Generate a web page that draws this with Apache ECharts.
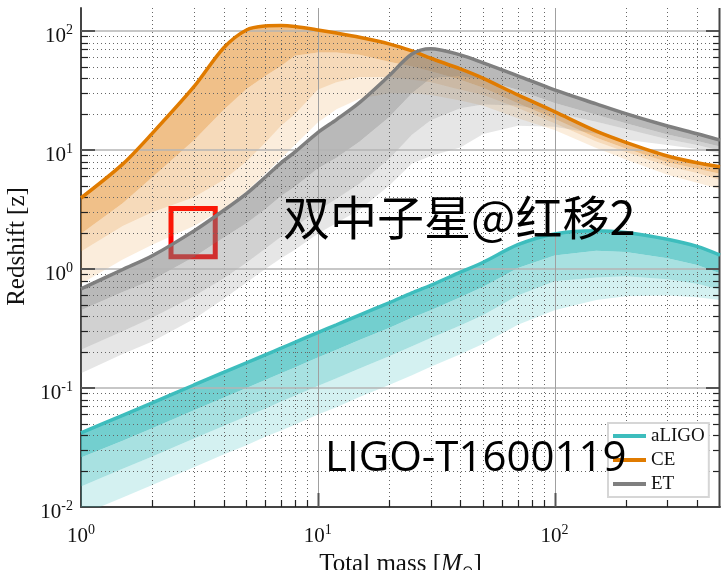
<!DOCTYPE html>
<html lang="en">
<head>
<meta charset="UTF-8">
<title>horizon redshift vs total mass</title>
<script type="text/javascript" src="https://cdn.jsdelivr.net/npm/echarts@6/dist/echarts.min.js"></script>
<style>
  html, body { margin: 0; padding: 0; background: #fff; }
  #main { width: 721px; height: 570px; }
</style>
</head>
<body>
<div id="main"></div>
<script type="text/javascript">
// total mass grid (M_sun)
var mass = [1, 1.5, 2, 3, 4, 5, 6, 7, 8, 10, 12, 15, 20, 25, 30, 40, 50, 70, 100, 150, 200, 300, 400, 500];

// aLIGO: horizon line and the three lower band edges
var aligoTop = [0.042, 0.059, 0.075, 0.106, 0.135, 0.163, 0.19, 0.216, 0.242, 0.292, 0.34, 0.41, 0.52, 0.63, 0.73, 0.94, 1.14, 1.6, 1.97, 2.10, 2.03, 1.78, 1.55, 1.31];
var aligoB1 = [0.026, 0.036, 0.046, 0.065, 0.083, 0.10, 0.117, 0.133, 0.149, 0.18, 0.21, 0.253, 0.32, 0.39, 0.45, 0.58, 0.71, 1.02, 1.30, 1.42, 1.39, 1.23, 1.08, 0.92];
var aligoB2 = [0.0149, 0.021, 0.0266, 0.0376, 0.048, 0.058, 0.067, 0.077, 0.086, 0.104, 0.121, 0.146, 0.185, 0.224, 0.263, 0.335, 0.41, 0.6, 0.79, 0.85, 0.87, 0.82, 0.75, 0.67];
var aligoB3 = [0.0086, 0.012, 0.0153, 0.0216, 0.0276, 0.033, 0.039, 0.044, 0.049, 0.060, 0.069, 0.084, 0.106, 0.128, 0.151, 0.192, 0.235, 0.34, 0.45, 0.55, 0.59, 0.60, 0.58, 0.55];

// CE
var ceTop = [3.95, 7.6, 13.8, 34, 72, 102, 110, 111, 109, 102, 96, 88.5, 78, 68, 59, 48, 40, 29, 21, 14.4, 11.6, 8.9, 7.8, 7.24];
var ceB1 = [1.98, 3.56, 5.9, 12.1, 21.7, 32.6, 41.8, 50.7, 62, 66, 66, 63, 55.2, 50.4, 45.8, 39, 33.3, 24.7, 18.3, 12.7, 10.3, 7.9, 6.95, 6.3];
var ceB2 = [1.4, 2.3, 3.0, 4.0, 5.6, 8, 11.5, 16, 20, 32, 37, 41, 41, 39, 37, 32, 29, 22.5, 16.8, 11.8, 9.6, 7.3, 6.4, 5.6];
var ceB3 = [0.75, 1.2, 1.6, 2.3, 3.2, 4.5, 6.3, 8.5, 11, 17, 22, 27, 30, 30, 29, 26, 23.5, 18.5, 14.7, 10.4, 8.3, 6.2, 5.3, 4.7];

// ET
var etTop = [0.68, 0.99, 1.29, 2.09, 3.1, 4.3, 5.9, 7.8, 9.6, 14, 18, 25, 42, 64, 71, 63, 54, 42, 32, 24.4, 20.2, 15.9, 13.7, 12.1];
var etB1 = [0.45, 0.64, 0.81, 1.26, 1.83, 2.42, 3.17, 4.1, 4.9, 7.0, 8.6, 11.7, 18.8, 30, 40, 41.6, 39, 31.9, 24.8, 19.8, 16.8, 13.5, 11.9, 10.7];
var etB2 = [0.21, 0.30, 0.39, 0.59, 0.83, 1.13, 1.48, 1.87, 2.25, 3.1, 3.9, 5.2, 8.4, 13.4, 17.8, 22.4, 24.1, 23.6, 20.7, 17.3, 15.0, 12.3, 11.0, 9.9];
var etB3 = [0.133, 0.193, 0.246, 0.38, 0.56, 0.77, 1.0, 1.23, 1.45, 1.98, 2.43, 3.15, 5.0, 7.7, 8.9, 10.5, 13.6, 16.0, 15.7, 13.7, 12.2, 11.0, 10.2, 9.4];

// red box corners [mass, z]
var boxFrom = [2.40, 1.27];
var boxTo = [3.69, 3.22];

// axis ranges and grid ticks
var xRange = [1, 500];
var yRange = [0.01, 156];
var xDecades = [1, 10, 100];
var yDecades = [0.01, 0.1, 1, 10, 100];
var minorSteps = [2, 3, 4, 5, 6, 7, 8, 9];

var xMinor = [], yMinor = [];
xDecades.forEach(function (d) { minorSteps.forEach(function (s) { if (d * s < xRange[1]) xMinor.push(d * s); }); });
yDecades.forEach(function (d) { minorSteps.forEach(function (s) { if (d * s < yRange[1]) yMinor.push(d * s); }); });
var xMajor = xDecades.slice(1);
var yMajor = yDecades.slice(1);

var teal = '#3dbdbd', orange = '#e07b00', grey = '#7f7f7f';

var bands = [
    { up: aligoTop, lo: aligoB1, color: 'rgba(61,189,189,0.72)' },
    { up: aligoB1, lo: aligoB2, color: 'rgba(61,189,189,0.45)' },
    { up: aligoB2, lo: aligoB3, color: 'rgba(61,189,189,0.22)' },
    { up: ceTop, lo: ceB1, color: 'rgba(228,140,40,0.55)' },
    { up: ceB1, lo: ceB2, color: 'rgba(228,140,40,0.32)' },
    { up: ceB2, lo: ceB3, color: 'rgba(228,140,40,0.16)' },
    { up: etTop, lo: etB1, color: 'rgba(128,128,128,0.55)' },
    { up: etB1, lo: etB2, color: 'rgba(128,128,128,0.36)' },
    { up: etB2, lo: etB3, color: 'rgba(128,128,128,0.2)' }
];

function pairs(ys) {
    return mass.map(function (m, i) { return [m, ys[i]]; });
}

function renderBand(params, api) {
    var b = bands[params.dataIndex];
    var pts = [];
    for (var i = 0; i < mass.length; i++) pts.push(api.coord([mass[i], b.up[i]]));
    for (var j = mass.length - 1; j >= 0; j--) pts.push(api.coord([mass[j], b.lo[j]]));
    return { type: 'polygon', shape: { points: pts }, style: { fill: b.color } };
}

function renderFrame(params, api) {
    var cs = params.coordSys;
    var L = cs.x, R = cs.x + cs.width, T = cs.y, B = cs.y + cs.height;
    var out = [];
    function seg(x1, y1, x2, y2, st) {
        out.push({ type: 'line', shape: { x1: x1, y1: y1, x2: x2, y2: y2 }, style: st });
    }
    var dotted = { stroke: '#666', lineWidth: 1, lineDash: [1, 3] };
    var major = { stroke: '#b5b5b5', lineWidth: 1.5 };
    var tMinor = { stroke: '#222', lineWidth: 1.2 };
    var tMajor = { stroke: '#555', lineWidth: 2 };
    yMinor.forEach(function (v) {
        var y = Math.round(api.coord([xRange[0], v])[1]) + 0.5;
        seg(L, y, R, y, dotted);
        seg(L, y, L + 7, y, tMinor);
        seg(R, y, R - 7, y, tMinor);
    });
    xMinor.forEach(function (v) {
        var x = Math.round(api.coord([v, yRange[0]])[0]) + 0.5;
        seg(x, T, x, B, dotted);
        seg(x, B, x, B - 7, tMinor);
    });
    yMajor.forEach(function (v) {
        var y = Math.round(api.coord([xRange[0], v])[1]);
        seg(L, y, R, y, major);
        seg(L, y, L + 14, y, tMajor);
        seg(R, y, R - 14, y, tMajor);
    });
    xMajor.forEach(function (v) {
        var x = Math.round(api.coord([v, yRange[0]])[0]) + 0.5;
        seg(x, T, x, B, { stroke: '#a0a0a0', lineWidth: 1 });
        seg(x, B, x, B - 14, tMajor);
    });
    seg(R - 0.5, T, R - 0.5, B, { stroke: '#444', lineWidth: 2 });
    return { type: 'group', children: out };
}

function powLabel(v) {
    var n = Math.round(Math.log(v) / Math.LN10);
    return '{b|10}{s|' + n + '}';
}

var labelRich = {
    b: { fontFamily: 'Liberation Serif', fontSize: 21, color: '#111', lineHeight: 24, verticalAlign: 'bottom' },
    s: { fontFamily: 'Liberation Serif', fontSize: 14, color: '#111', lineHeight: 14, verticalAlign: 'top' }
};

var myChart = echarts.init(document.getElementById('main'));

myChart.setOption({
    animation: false,
    grid: { left: 81, right: 1, top: 8, bottom: 63, outerBoundsMode: 'none', containLabel: false },
    legend: {
        data: ['aLIGO', 'CE', 'ET'],
        orient: 'vertical',
        left: 608,
        top: 423,
        icon: 'rect',
        itemWidth: 33,
        itemHeight: 4,
        itemGap: 4,
        padding: [3, 4, 3, 5],
        backgroundColor: '#fff',
        borderColor: '#d6d6d6',
        borderWidth: 2,
        textStyle: { fontFamily: 'Liberation Serif', fontSize: 19, color: '#111', lineHeight: 20 }
    },
    xAxis: {
        type: 'log',
        logBase: 10,
        min: xRange[0],
        max: xRange[1],
        axisLine: { lineStyle: { color: '#444', width: 2 } },
        axisTick: { show: false },
        splitLine: { show: false },
        axisLabel: { formatter: powLabel, rich: labelRich, margin: 16, showMaxLabel: false },
        name: '{n|Total mass [}{m|M}{o|⊙}{n|]}',
        nameLocation: 'middle',
        nameGap: 39,
        nameTextStyle: {
            rich: {
                n: { fontFamily: 'Liberation Serif', fontSize: 25, color: '#111', lineHeight: 28 },
                m: { fontFamily: 'Liberation Serif', fontStyle: 'italic', fontSize: 25, color: '#111', lineHeight: 28 },
                o: { fontFamily: 'DejaVu Serif', fontSize: 14, color: '#111', lineHeight: 28, verticalAlign: 'bottom' }
            }
        }
    },
    yAxis: {
        type: 'log',
        logBase: 10,
        min: yRange[0],
        max: yRange[1],
        axisLine: { lineStyle: { color: '#444', width: 2 } },
        axisTick: { show: false },
        splitLine: { show: false },
        axisLabel: { formatter: powLabel, rich: labelRich, margin: 8, showMaxLabel: false, padding: [8, 0, 0, 0] },
        name: 'Redshift [z]',
        nameLocation: 'middle',
        nameRotate: 90,
        nameGap: 49,
        nameTextStyle: { fontFamily: 'Liberation Serif', fontSize: 25, color: '#111', padding: [0, 0, 0, 22] }
    },
    graphic: [
        {
            type: 'text', left: 283, top: 194, z: 100,
            style: { text: '双中子星@红移2', fontFamily: 'Noto Sans CJK SC', fontSize: 47, fill: '#000' }
        },
        {
            type: 'text', left: 325, top: 438, z: 100,
            style: { text: 'LIGO-T1600119', fontFamily: 'Open Sans', fontSize: 42, fill: '#000' }
        }
    ],
    series: [
        {
            name: 'bands',
            type: 'custom',
            clip: true,
            z: 1,
            silent: true,
            renderItem: renderBand,
            data: bands.map(function () { return [xRange[0], 1]; })
        },
        {
            name: 'frame',
            type: 'custom',
            z: 2,
            silent: true,
            renderItem: renderFrame,
            data: [[xRange[0], 1]]
        },
        {
            name: 'aLIGO', type: 'line', z: 3, smooth: 0.3, showSymbol: false,
            lineStyle: { color: teal, width: 3.5 }, itemStyle: { color: teal },
            data: pairs(aligoTop)
        },
        {
            name: 'CE', type: 'line', z: 3, smooth: 0.3, showSymbol: false,
            lineStyle: { color: orange, width: 3.5 }, itemStyle: { color: orange },
            data: pairs(ceTop)
        },
        {
            name: 'ET', type: 'line', z: 3, smooth: 0.3, showSymbol: false,
            lineStyle: { color: grey, width: 3.5 }, itemStyle: { color: grey },
            data: pairs(etTop),
            markArea: {
                silent: true,
                itemStyle: { color: 'rgba(0,0,0,0)', borderColor: '#ff0000', borderWidth: 5 },
                data: [[{ coord: boxFrom }, { coord: boxTo }]]
            }
        }
    ]
});
</script>
</body>
</html>
